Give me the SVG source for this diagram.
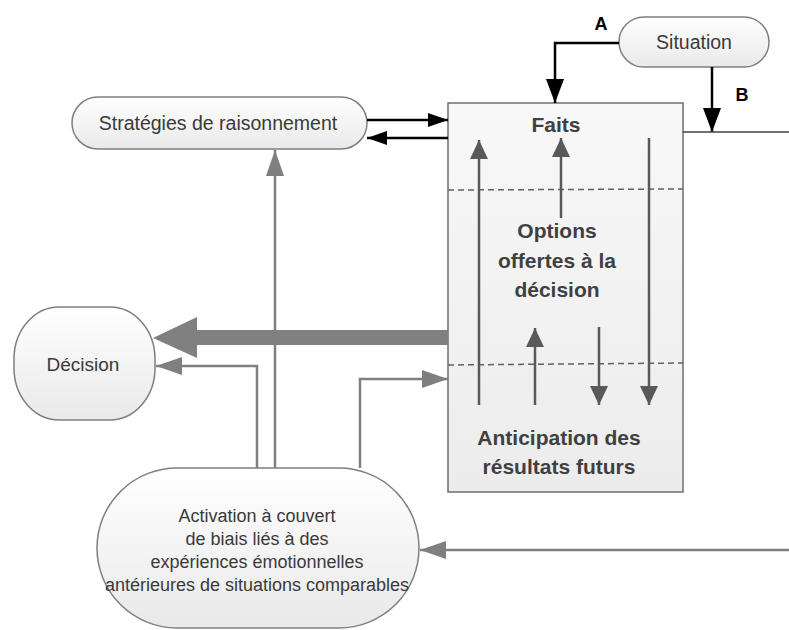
<svg xmlns="http://www.w3.org/2000/svg" width="789" height="630" viewBox="0 0 789 630">
<defs>
<linearGradient id="gNode" x1="0" y1="0" x2="0" y2="1">
<stop offset="0" stop-color="#ffffff"/>
<stop offset="1" stop-color="#e9e9e9"/>
</linearGradient>
<linearGradient id="gBox" x1="0" y1="0" x2="0" y2="1">
<stop offset="0" stop-color="#f8f8f8"/>
<stop offset="1" stop-color="#ececec"/>
</linearGradient>
<marker id="mGray" markerUnits="userSpaceOnUse" viewBox="0 0 26 18" refX="26" refY="9" markerWidth="26" markerHeight="18" orient="auto">
<path d="M0,0 L26,9 L0,18 z" fill="#7f7f7f"/>
</marker>
<marker id="mGraySm" markerUnits="userSpaceOnUse" viewBox="0 0 19 18" refX="19" refY="9" markerWidth="19" markerHeight="18" orient="auto">
<path d="M0,0 L19,9 L0,18 z" fill="#595959"/>
</marker>
<marker id="mBlack" markerUnits="userSpaceOnUse" viewBox="0 0 24 18" refX="24" refY="9" markerWidth="24" markerHeight="18" orient="auto">
<path d="M0,0 L24,9 L0,18 z" fill="#000"/>
</marker>
<marker id="mBlackSm" markerUnits="userSpaceOnUse" viewBox="0 0 20 14" refX="20" refY="7" markerWidth="20" markerHeight="14" orient="auto">
<path d="M0,0 L20,7 L0,14 z" fill="#000"/>
</marker>
</defs>
<style>
.node{fill:url(#gNode);stroke:#7f7f7f;stroke-width:1.5}
.box{fill:url(#gBox);stroke:#6f6f6f;stroke-width:1.5}
.t{font-family:"Liberation Sans",Arial,sans-serif;fill:#3a3a3a;text-anchor:middle}
.tb{font-family:"Liberation Sans",Arial,sans-serif;fill:#404040;text-anchor:middle;font-weight:bold;font-size:21px}
.lbl{font-family:"Liberation Sans",Arial,sans-serif;fill:#000;font-weight:bold;font-size:18px;text-anchor:middle}
.blk{fill:none;stroke:#000;stroke-width:2.5}
.gry{fill:none;stroke:#7f7f7f;stroke-width:2.5}
.inn{fill:none;stroke:#595959;stroke-width:2.5}
.dash{fill:none;stroke:#606060;stroke-width:1.5;stroke-dasharray:6,4}
</style>

<g id="box-faits">
<rect class="box" x="448" y="103" width="235" height="389"/>
<line class="dash" x1="448" y1="190" x2="683" y2="189"/>
<line class="dash" x1="448" y1="365" x2="683" y2="363"/>
<text class="tb" x="556" y="132">Faits</text>
<text class="tb" x="557" y="238">Options</text>
<text class="tb" x="557" y="268">offertes à la</text>
<text class="tb" x="557" y="297">décision</text>
<text class="tb" x="559" y="445">Anticipation des</text>
<text class="tb" x="559" y="474">résultats futurs</text>
</g>

<g id="situation">
<rect class="node" x="619" y="17" width="150" height="50" rx="25" ry="25"/>
<text class="t" x="694" y="49" font-size="19.5">Situation</text>
</g>

<g id="strategies">
<rect class="node" x="72" y="97" width="295" height="52" rx="26" ry="26"/>
<text class="t" x="218" y="130" font-size="19.5">Stratégies de raisonnement</text>
</g>

<g id="decision">
<rect class="node" x="14" y="307" width="141" height="113" rx="45" ry="52"/>
<text class="t" x="83" y="371" font-size="19">Décision</text>
</g>

<g id="activation">
<rect class="node" x="97" y="468" width="322" height="160" rx="80" ry="80"/>
<text class="t" x="257" y="522" font-size="18">Activation à couvert</text>
<text class="t" x="257" y="545" font-size="18">de biais liés à des</text>
<text class="t" x="257" y="568" font-size="18">expériences émotionnelles</text>
<text class="t" x="257" y="591" font-size="18">antérieures de situations comparables</text>
</g>

<g id="connectors">
<path class="blk" d="M619,43 H555 V103" marker-end="url(#mBlack)"/>
<path class="blk" d="M712,67 V132" marker-end="url(#mBlack)"/>
<path d="M683,132 H789" fill="none" stroke="#404040" stroke-width="1.5"/>
<path class="blk" d="M367,120 H448" marker-end="url(#mBlackSm)"/>
<path class="blk" d="M448,138 H367" marker-end="url(#mBlackSm)"/>
<path d="M448,330 H197 V317 L153,338 L197,358 V345 H448 z" fill="#808080"/>
<path class="gry" d="M257,468 V366 H156" marker-end="url(#mGray)"/>
<path class="gry" d="M275,468 V150" marker-end="url(#mGray)"/>
<path class="gry" d="M360,468 V379 H448" marker-end="url(#mGray)"/>
<path class="gry" d="M789,550 H420" marker-end="url(#mGray)"/>
<path class="inn" d="M479,405 V140" marker-end="url(#mGraySm)"/>
<path class="inn" d="M561,218 V138" marker-end="url(#mGraySm)"/>
<path class="inn" d="M649,138 V405" marker-end="url(#mGraySm)"/>
<path class="inn" d="M535,405 V328" marker-end="url(#mGraySm)"/>
<path class="inn" d="M599,327 V405" marker-end="url(#mGraySm)"/>
<text class="lbl" x="601" y="30">A</text>
<text class="lbl" x="742" y="101">B</text>
</g>
</svg>
